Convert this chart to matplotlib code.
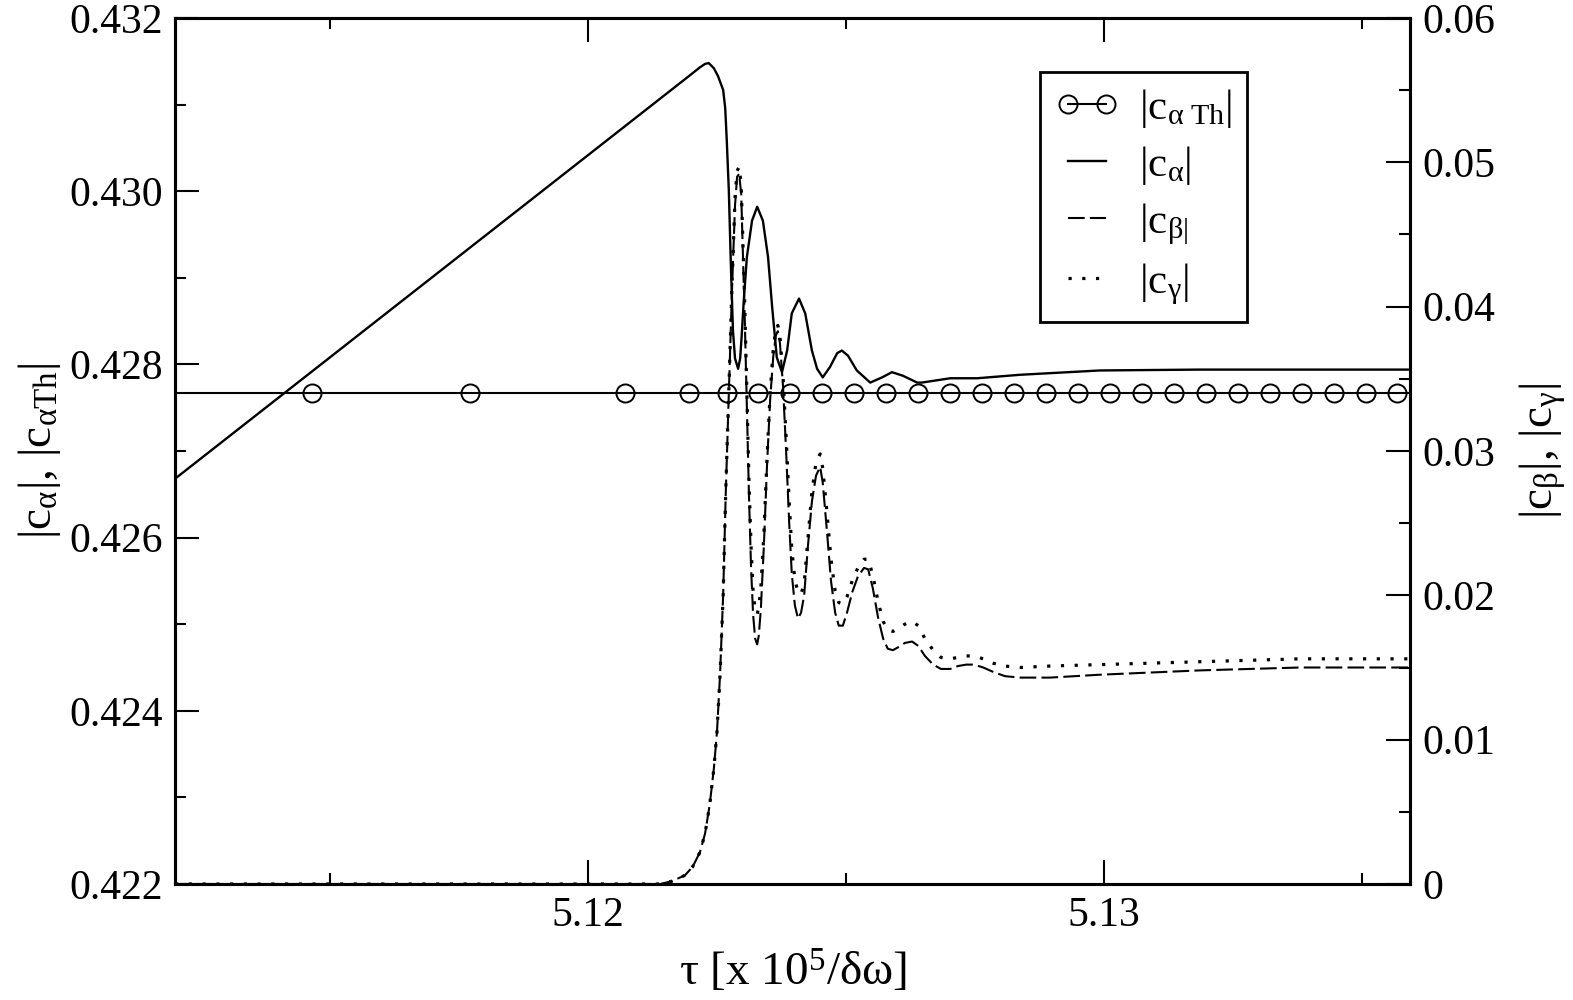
import matplotlib
matplotlib.use("Agg")
from matplotlib import pyplot as plt
from matplotlib.ticker import MultipleLocator, FuncFormatter

plt.rcParams['font.family'] = ['Liberation Serif', 'DejaVu Serif']
plt.rcParams['mathtext.fontset'] = 'custom'
plt.rcParams['mathtext.rm'] = 'Liberation Serif'
plt.rcParams['mathtext.it'] = 'Liberation Serif'
plt.rcParams['mathtext.bf'] = 'Liberation Serif:bold'
plt.rcParams['mathtext.default'] = 'rm'

# |c_alpha| (left axis)
tau_a = [5.11200, 5.12198, 5.12217, 5.12227, 5.12234, 5.12244, 5.12252, 5.12262,
         5.12266, 5.12269, 5.12273, 5.12277, 5.12281, 5.12285, 5.12291, 5.12295,
         5.12298, 5.12302, 5.12308, 5.12318, 5.12328, 5.12339, 5.12349, 5.12357,
         5.12366, 5.12376, 5.12386, 5.12395, 5.12409, 5.12421, 5.12434, 5.12444,
         5.12455, 5.12469, 5.12483, 5.12492, 5.12504, 5.12521, 5.12547, 5.12570,
         5.12589, 5.12610, 5.12638, 5.12647, 5.12702, 5.12754, 5.12837, 5.12992,
         5.13186, 5.13593]
c_alpha = [0.42668, 0.43134, 0.43143, 0.43147, 0.43148, 0.43142, 0.43133, 0.43117,
           0.43096, 0.43059, 0.43001, 0.42914, 0.42839, 0.42807, 0.42795, 0.42807,
           0.42834, 0.42874, 0.42924, 0.42966, 0.42982, 0.42966, 0.42924, 0.42866,
           0.42808, 0.42791, 0.42816, 0.42859, 0.42876, 0.42859, 0.42816, 0.42795,
           0.42785, 0.42797, 0.42813, 0.42816, 0.42810, 0.42793, 0.42779, 0.42785,
           0.42791, 0.42787, 0.42779, 0.42779, 0.42784, 0.42784, 0.42788, 0.42793,
           0.42794, 0.42794]

# |c_alpha Th| : constant value, circles where the symbols are drawn
c_alpha_th = 0.42767
tau_th = [5.11465, 5.11771, 5.12072, 5.12196, 5.12269, 5.12329, 5.12391, 5.12453,
          5.12516, 5.12578, 5.12640, 5.12702, 5.12764, 5.12826, 5.12888, 5.12950,
          5.13012, 5.13074, 5.13136, 5.13198, 5.13260, 5.13322, 5.13384, 5.13446,
          5.13508, 5.13568]

# |c_beta| and |c_gamma| (right axis)
tau_bg = [5.11200, 5.12140, 5.12163, 5.12188, 5.12203, 5.12217, 5.12227, 5.12236,
          5.12244, 5.12250, 5.12256, 5.12262, 5.12267, 5.12273, 5.12279, 5.12285,
          5.12289, 5.12293, 5.12297, 5.12300, 5.12304, 5.12308, 5.12312, 5.12316,
          5.12320, 5.12324, 5.12328, 5.12331, 5.12335, 5.12341, 5.12347, 5.12353,
          5.12359, 5.12364, 5.12368, 5.12372, 5.12378, 5.12384, 5.12390, 5.12395,
          5.12401, 5.12407, 5.12413, 5.12419, 5.12426, 5.12434, 5.12442, 5.12450,
          5.12455, 5.12463, 5.12471, 5.12479, 5.12486, 5.12494, 5.12502, 5.12512,
          5.12523, 5.12535, 5.12543, 5.12552, 5.12562, 5.12572, 5.12581, 5.12591,
          5.12601, 5.12614, 5.12628, 5.12640, 5.12653, 5.12669, 5.12684, 5.12702,
          5.12717, 5.12733, 5.12748, 5.12766, 5.12785, 5.12808, 5.12837, 5.12895,
          5.12992, 5.13186, 5.13380, 5.13593]
c_beta = [0.0, 0.0, 0.0002, 0.0006, 0.0012, 0.0022, 0.0035, 0.0055,
          0.0080, 0.0105, 0.0145, 0.0200, 0.0270, 0.0340, 0.0410, 0.0470,
          0.0490, 0.0492, 0.0478, 0.0440, 0.0390, 0.0330, 0.0270, 0.0220,
          0.0187, 0.0170, 0.0166, 0.0172, 0.0190, 0.0235, 0.0290, 0.0335,
          0.0365, 0.0380, 0.0383, 0.0375, 0.0345, 0.0300, 0.0250, 0.0215,
          0.0193, 0.0184, 0.0188, 0.0200, 0.0233, 0.0265, 0.0283, 0.0289,
          0.0278, 0.0245, 0.0210, 0.0188, 0.0179, 0.0179, 0.0188, 0.0202,
          0.0213, 0.0219, 0.0218, 0.0205, 0.0185, 0.0170, 0.0163, 0.0162,
          0.0164, 0.0167, 0.0168, 0.0165, 0.0158, 0.0152, 0.0149, 0.0149,
          0.0151, 0.0152, 0.0152, 0.0150, 0.0147, 0.0144, 0.0143, 0.0143,
          0.0145, 0.0148, 0.0150, 0.0150]
c_gamma = [0.0, 0.0, 0.0002, 0.0006, 0.0012, 0.0022, 0.0035, 0.0055,
           0.0080, 0.0105, 0.0145, 0.0200, 0.0272, 0.0342, 0.0413, 0.0475,
           0.0494, 0.0497, 0.0484, 0.0448, 0.0400, 0.0340, 0.0280, 0.0235,
           0.0203, 0.0190, 0.0187, 0.0192, 0.0205, 0.0243, 0.0295, 0.0340,
           0.0370, 0.0384, 0.0387, 0.0380, 0.0352, 0.0310, 0.0265, 0.0232,
           0.0211, 0.0202, 0.0201, 0.0208, 0.0238, 0.0272, 0.0292, 0.0298,
           0.0288, 0.0258, 0.0225, 0.0203, 0.0195, 0.0194, 0.0199, 0.0210,
           0.0219, 0.0225, 0.0225, 0.0214, 0.0196, 0.0182, 0.0176, 0.0175,
           0.0177, 0.0180, 0.0182, 0.0179, 0.0170, 0.0162, 0.0157, 0.0156,
           0.0157, 0.0158, 0.0158, 0.0156, 0.0153, 0.0151, 0.0150, 0.0151,
           0.0152, 0.0154, 0.0156, 0.0156]

x_min, x_max = 5.11200, 5.13593

fig = plt.figure(figsize=(15.73, 10), dpi=100)
ax = fig.add_axes([0.1113, 0.116, 0.7851, 0.866])
ax2 = ax.twinx()

# constant theoretical line, symbols only at tau_th
th_x = [x_min] + tau_th + [x_max]
th_y = [c_alpha_th] * len(th_x)
l_th, = ax.plot(th_x, th_y, color='black', lw=1.5, marker='o', ms=13,
                mfc='none', mec='black', mew=1.4,
                markevery=list(range(1, len(th_x) - 1)))
l_a, = ax.plot(tau_a, c_alpha, color='black', lw=1.7)
l_b, = ax2.plot(tau_bg, c_beta, color='black', lw=1.5, ls=(0, (8, 2.5)))
l_g, = ax2.plot(tau_bg, c_gamma, color='black', lw=2.3, ls=(0, (1, 3.3)))

ax.set_xlim(x_min, x_max)
ax.set_ylim(0.422, 0.432)
ax2.set_ylim(0, 0.06)

ax.xaxis.set_major_locator(MultipleLocator(0.01))
ax.xaxis.set_minor_locator(MultipleLocator(0.005))
ax.yaxis.set_major_locator(MultipleLocator(0.002))
ax.yaxis.set_minor_locator(MultipleLocator(0.001))
ax2.yaxis.set_major_locator(MultipleLocator(0.01))
ax2.yaxis.set_minor_locator(MultipleLocator(0.005))

ax.xaxis.set_major_formatter(FuncFormatter(lambda v, p: f'{v:.2f}'))
ax.yaxis.set_major_formatter(FuncFormatter(lambda v, p: f'{v:.3f}'))
ax2.yaxis.set_major_formatter(FuncFormatter(lambda v, p: f'{v:g}' if abs(v) > 1e-9 else '0'))

ax.tick_params(which='both', direction='in', top=True, right=False, width=1.5,
               labelsize=30, pad=9)
ax.tick_params(which='major', length=17)
ax.tick_params(which='minor', length=8)
ax2.tick_params(which='both', direction='in', width=1.5, labelsize=30, pad=9)
ax2.tick_params(which='major', length=17)
ax2.tick_params(which='minor', length=8)

for a in (ax, ax2):
    for s in a.spines.values():
        s.set_linewidth(2.2)

ax.set_xlabel(r'τ [x 10$^5$/δω]', fontsize=34, labelpad=10)
ax.set_ylabel(r'$|c_{\alpha}|$, $|c_{\alpha\mathrm{Th}}|$', fontsize=34, labelpad=4)
ax2.set_ylabel(r'$|c_{\beta}|$, $|c_{\gamma}|$', fontsize=34, labelpad=16)

leg = ax.legend([l_th, l_a, l_b, l_g],
                [r'$|c_{\alpha\ \mathrm{Th}}|$', r'$|c_{\alpha}|$',
                 r'$|c_{\beta|}$', r'$|c_{\gamma}|$'],
                loc='upper left', bbox_to_anchor=(0.700, 0.9376),
                borderaxespad=0, fontsize=31, numpoints=2, handlelength=1.5,
                handletextpad=0.45, labelspacing=0.33, fancybox=False,
                framealpha=1, edgecolor='black', borderpad=0.35)
leg.get_frame().set_linewidth(2.0)
leg.set_zorder(10)
ax.set_zorder(ax2.get_zorder() + 1)
ax.patch.set_visible(False)

fig.savefig('out.png', dpi=100)
